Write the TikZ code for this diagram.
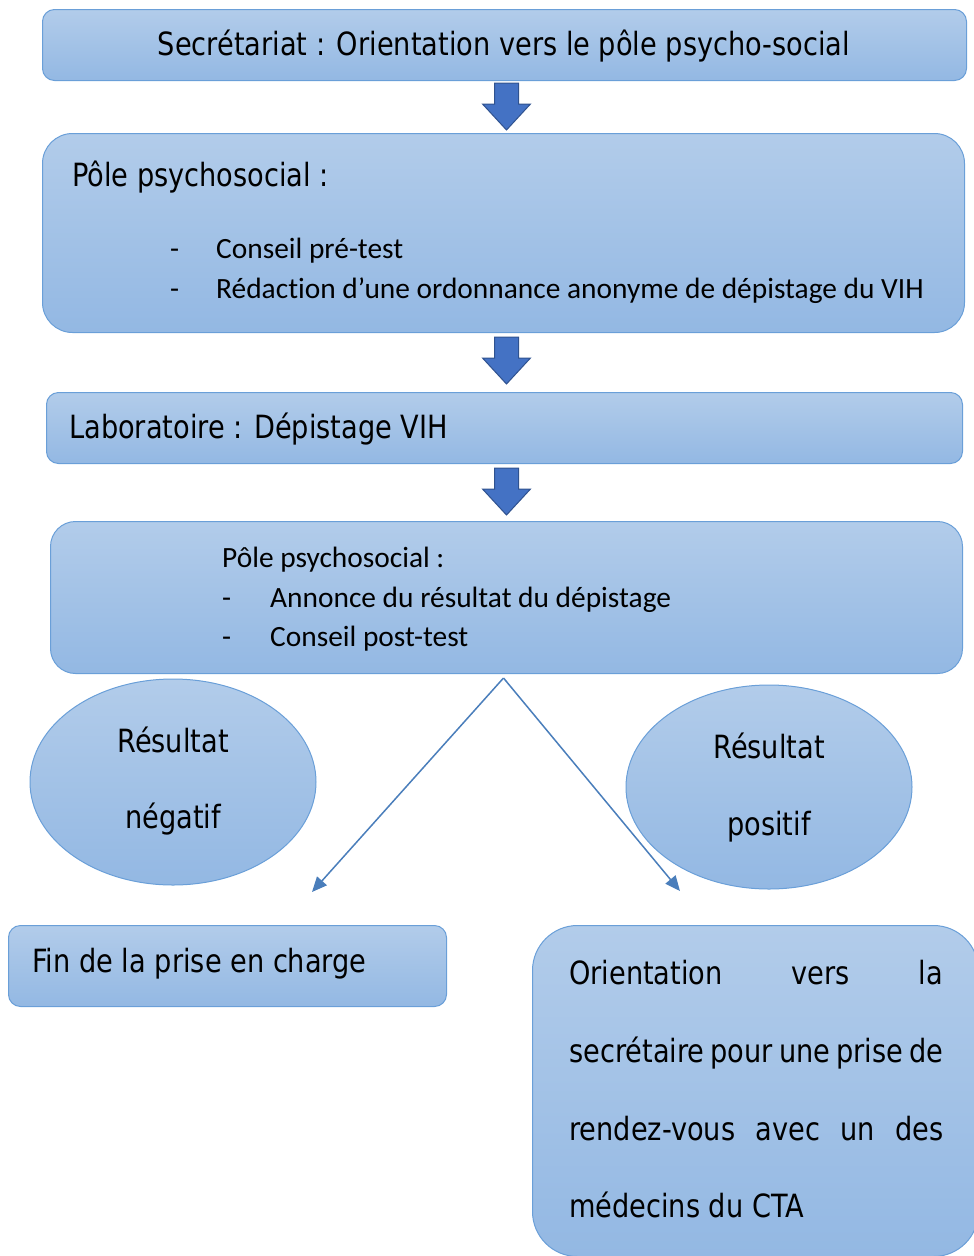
\documentclass[tikz,border=0pt]{standalone}
\usepackage{fontspec}
\setmainfont{Carlito}[Ligatures=NoCommon]
\newfontfamily\tah{DejaVu Sans}[FakeStretch=0.85]
\usetikzlibrary{shapes.geometric,arrows.meta,calc}
\definecolor{boxtop}{HTML}{B2CCEA}
\definecolor{boxbot}{HTML}{93B8E3}
\definecolor{boxline}{HTML}{6A9FD8}
\definecolor{arrfill}{HTML}{4472C4}
\definecolor{arrline}{HTML}{2F528F}
\definecolor{conn}{HTML}{4A7EBB}
\tikzset{
  box/.style={draw=boxline, line width=1pt, top color=boxtop, bottom color=boxbot,
    anchor=north west, inner sep=0pt},
  oval/.style={ellipse, draw=boxline, line width=1pt, top color=boxtop, bottom color=boxbot, inner sep=0pt},
  tahtext/.style={font=\tah\fontsize{32}{38}\selectfont, inner sep=0pt, anchor=base west},
  calitext/.style={font=\fontsize{29.4}{34}\selectfont, inner sep=0pt, anchor=base west},
  downarr/.pic={\draw[arrline, fill=arrfill, line width=1pt, line join=miter]
    (-12,0) -- (12,0) -- (12,21) -- (24,21) -- (0,47) -- (-24,21) -- (-12,21) -- cycle;},
  conn/.style={draw=conn, line width=1.5pt, -{Triangle[length=15pt,width=13pt]}}
}
\begin{document}
\begin{tikzpicture}[x=1pt,y=-1pt]
\clip (0,0) rectangle (974,1256);
% boxes
\node[box, rounded corners=12pt, minimum width=924pt, minimum height=71pt] (b1) at (42,9) {};
\node[box, rounded corners=30pt, minimum width=922pt, minimum height=199pt] (b2) at (42,133) {};
\node[box, rounded corners=12pt, minimum width=916pt, minimum height=71pt] (b3) at (46,392) {};
\node[box, rounded corners=25pt, minimum width=912pt, minimum height=152pt] (b4) at (50,521) {};
\node[oval, minimum width=286pt, minimum height=206pt] (eL) at (173,782) {};
\node[oval, minimum width=286pt, minimum height=204pt] (eR) at (769,787) {};
\node[box, rounded corners=12pt, minimum width=438pt, minimum height=81pt] (b5) at (8,925) {};
\node[box, rounded corners=45pt, minimum width=446pt, minimum height=331pt] (b6) at (532,925) {};
% block arrows
\pic at ($(b1.south)+(2,2)$) {downarr};
\pic at ($(b2.south)+(3,4)$) {downarr};
\pic at ($(b3.south)+(2,4)$) {downarr};
% connectors
\coordinate (split) at ($(b4.south)+(-3,4)$);
\coordinate (endL) at (312,892);
\coordinate (endR) at (680,891);
\draw[conn] (split) -- (endL);
\draw[conn] (split) -- (endR);
% texts
\node[tahtext, anchor=base] (t1) at (504,55) {Secrétariat : Orientation vers le pôle psycho-social};
\node[tahtext] (t2) at (72,186) {Pôle psychosocial :};
\node[calitext] (t2a) at (170,258) {-};
\node[calitext] (t2b) at (216,258) {Conseil pré-test};
\node[calitext] (t2c) at (170,298) {-};
\node[calitext] (t2d) at (216,298) {Rédaction d’une ordonnance anonyme de dépistage du VIH};
\node[tahtext] (t3) at (69,438) {Laboratoire : Dépistage VIH};
\node[calitext] (t4) at (222,567) {Pôle psychosocial :};
\node[calitext] (t4a) at (222,607) {-};
\node[calitext] (t4b) at (270,607) {Annonce du résultat du dépistage};
\node[calitext] (t4c) at (222,646) {-};
\node[calitext] (t4d) at (270,646) {Conseil post-test};
\node[tahtext, anchor=base] (tL1) at (173,752) {Résultat};
\node[tahtext, anchor=base] (tL2) at (173,828) {négatif};
\node[tahtext, anchor=base] (tR1) at (769,758) {Résultat};
\node[tahtext, anchor=base] (tR2) at (769,835) {positif};
\node[tahtext] (t5) at (32,972) {Fin de la prise en charge};
\node[tahtext] (t6a) at (569,984) {\makebox[374pt][s]{Orientation vers la}};
\node[tahtext] (t6b) at (569,1062) {\makebox[374pt][s]{secrétaire pour une prise de}};
\node[tahtext] (t6c) at (569,1140) {\makebox[374pt][s]{rendez-vous avec un des}};
\node[tahtext] (t6d) at (569,1217) {médecins du CTA};
\end{tikzpicture}
\end{document}
